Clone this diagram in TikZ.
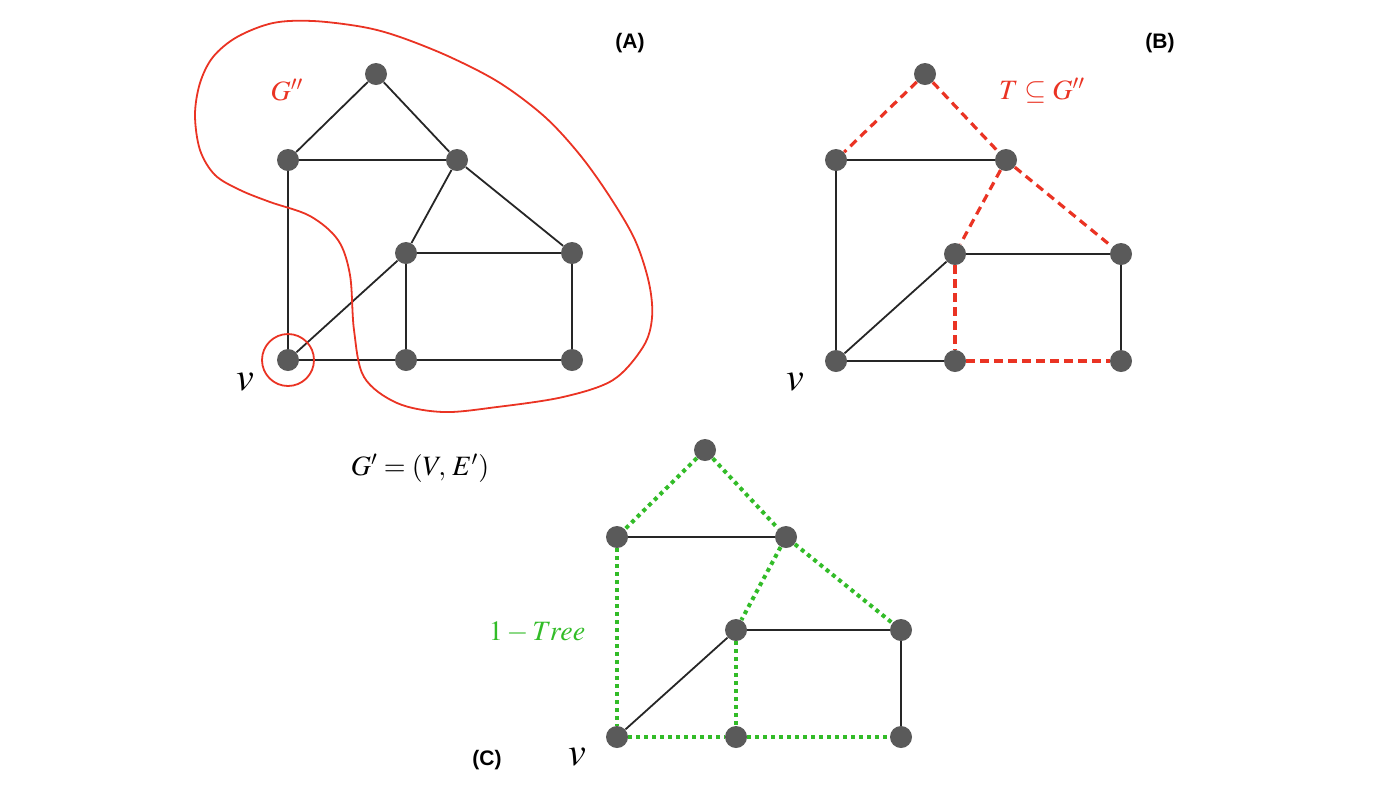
\documentclass[tikz,border=0pt]{standalone}
\usepackage{mathptmx}
\usepackage{fontspec}
\setsansfont{Liberation Sans}
\definecolor{hullred}{RGB}{234, 51, 35}
\definecolor{treegreen}{RGB}{50, 188, 40}
\definecolor{vertexgray}{RGB}{90, 90, 90}
\begin{document}
\begin{tikzpicture}[x=0.5pt, y=-0.5pt,
    vertex/.style={circle, fill=vertexgray, minimum size=11pt, inner sep=0pt},
    edge/.style={line width=0.9pt, black!85},
    redge/.style={line width=1.6pt, hullred, dash pattern=on 4.2pt off 2.8pt},
    gedge/.style={line width=2pt, treegreen, dash pattern=on 2pt off 2pt},
    panel/.style={font=\sffamily\bfseries\fontsize{10.5}{12}\selectfont},
    mathlabel/.style={font=\fontsize{14}{16}\selectfont, inner sep=0pt},
    vlabel/.style={font=\fontsize{20}{22}\selectfont, inner sep=0pt}]
    \useasboundingbox (0,0) rectangle (1377,805);

    % Graph A
    \node[vertex] (Atop) at (376,74) {};
    \node[vertex] (Aml) at (288,160) {};
    \node[vertex] (Amr) at (457,160) {};
    \node[vertex] (Ain) at (406,253) {};
    \node[vertex] (Art) at (572,253) {};
    \node[vertex] (Av) at (288,360) {};
    \node[vertex] (Abm) at (406,360) {};
    \node[vertex] (Abr) at (572,360) {};
    \draw[edge] (Atop) -- (Aml);
    \draw[edge] (Atop) -- (Amr);
    \draw[edge] (Aml) -- (Amr);
    \draw[edge] (Aml) -- (Av);
    \draw[edge] (Amr) -- (Ain);
    \draw[edge] (Amr) -- (Art);
    \draw[edge] (Ain) -- (Art);
    \draw[edge] (Ain) -- (Av);
    \draw[edge] (Ain) -- (Abm);
    \draw[edge] (Art) -- (Abr);
    \draw[edge] (Av) -- (Abm);
    \draw[edge] (Abm) -- (Abr);
    % the G'' hull and the ring round v
    \draw[hullred, line width=0.9pt] plot[smooth cycle, tension=0.55] coordinates {
        (195,115) (200,83) (213,57) (237,37) (273,23) (313,21) (363,27)
        (400,37) (450,57) (500,83) (545,117) (580,155) (610,197) (635,240)
        (649,283) (652,318) (643,347) (613,380) (563,397) (497,407)
        (443,412) (397,403) (364,377) (354,330) (350,275) (338,240)
        (310,216) (270,202) (240,190) (215,175) (200,150)};
    \draw[hullred, line width=0.9pt] (Av) circle (26);
    \node[panel] (Alabel) at (630,43) {(A)};
    \node[mathlabel, text=hullred] (Ghull) at (287,90) {$G''$};
    \node[vlabel] (Avl) at (245,382) {$v$};
    \node[mathlabel] (Gprime) at (420,468) {$G' = (V,\, E')$};

    % Graph B
    \node[vertex] (Btop) at (925,74) {};
    \node[vertex] (Bml) at (836,160) {};
    \node[vertex] (Bmr) at (1006,160) {};
    \node[vertex] (Bin) at (955,254) {};
    \node[vertex] (Brt) at (1121,254) {};
    \node[vertex] (Bv) at (836,361) {};
    \node[vertex] (Bbm) at (955,361) {};
    \node[vertex] (Bbr) at (1121,361) {};
    \draw[redge] (Btop) -- (Bml);
    \draw[redge] (Btop) -- (Bmr);
    \draw[edge] (Bml) -- (Bmr);
    \draw[edge] (Bml) -- (Bv);
    \draw[redge] (Bmr) -- (Bin);
    \draw[redge] (Bmr) -- (Brt);
    \draw[edge] (Bin) -- (Brt);
    \draw[edge] (Bin) -- (Bv);
    \draw[redge] (Bin) -- (Bbm);
    \draw[edge] (Brt) -- (Bbr);
    \draw[edge] (Bv) -- (Bbm);
    \draw[redge] (Bbm) -- (Bbr);
    \node[panel] (Blabel) at (1160,43) {(B)};
    \node[mathlabel, text=hullred] (Tsub) at (1042,91) {$T \subseteq G''$};
    \node[vlabel] (Bvl) at (795,382) {$v$};

    % Graph C
    \node[vertex] (Ctop) at (705,450) {};
    \node[vertex] (Cml) at (617,537) {};
    \node[vertex] (Cmr) at (786,537) {};
    \node[vertex] (Cin) at (736,630) {};
    \node[vertex] (Crt) at (901,630) {};
    \node[vertex] (Cv) at (617,737) {};
    \node[vertex] (Cbm) at (736,737) {};
    \node[vertex] (Cbr) at (901,737) {};
    \draw[gedge] (Ctop) -- (Cml);
    \draw[gedge] (Ctop) -- (Cmr);
    \draw[edge] (Cml) -- (Cmr);
    \draw[gedge] (Cml) -- (Cv);
    \draw[gedge] (Cmr) -- (Cin);
    \draw[gedge] (Cmr) -- (Crt);
    \draw[edge] (Cin) -- (Crt);
    \draw[edge] (Cin) -- (Cv);
    \draw[gedge] (Cin) -- (Cbm);
    \draw[edge] (Crt) -- (Cbr);
    \draw[gedge] (Cv) -- (Cbm);
    \draw[gedge] (Cbm) -- (Cbr);
    \node[panel] (Clabel) at (487,760) {(C)};
    \node[mathlabel, text=treegreen] (onetree) at (537,632) {$1 - Tree$};
    \node[vlabel] (Cvl) at (577,757) {$v$};
\end{tikzpicture}
\end{document}
